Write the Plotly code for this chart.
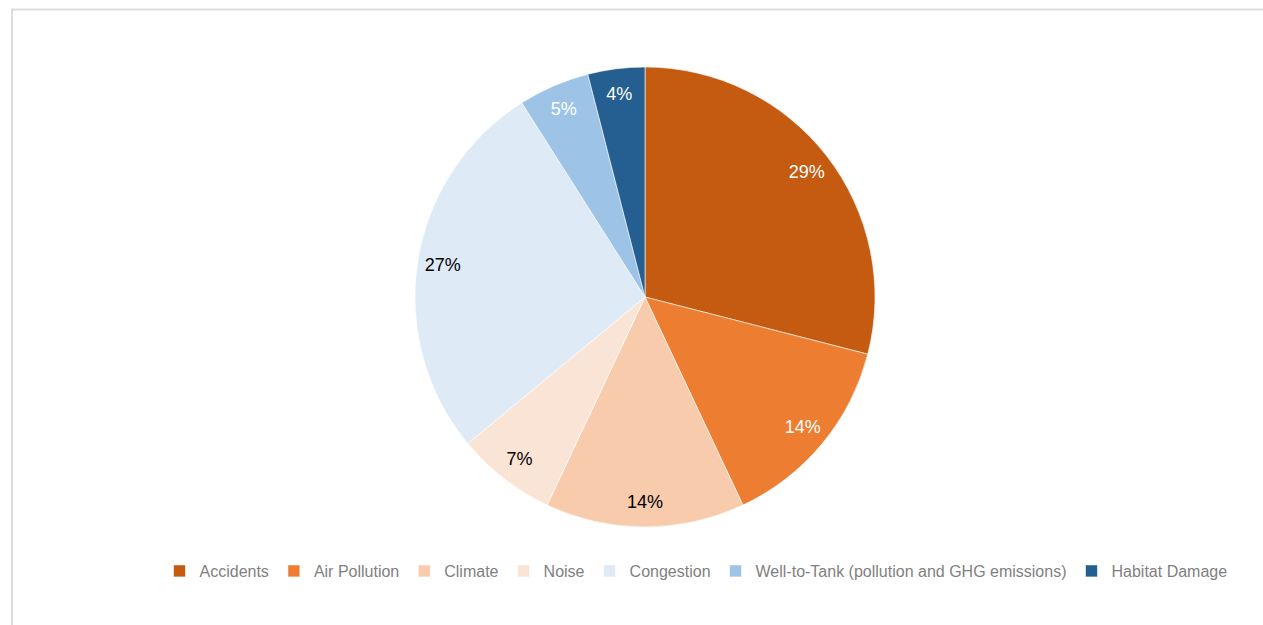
import plotly.graph_objects as go

categories = ["Accidents", "Air Pollution", "Climate", "Noise", "Congestion",
              "Well-to-Tank (pollution and GHG emissions)", "Habitat Damage"]
values = [29, 14, 14, 7, 27, 5, 4]
colors = ["#C55A11", "#ED7D31", "#F7CBAC", "#FAE4D6", "#DEEAF6", "#9DC3E6", "#255E91"]
text_colors = ["white", "white", "black", "black", "black", "white", "white"]

W, H = 1263, 625
cx, cy, r = 645, 297, 230
dom = dict(x=[(cx - r) / W, (cx + r) / W], y=[1 - (cy + r) / H, 1 - (cy - r) / H])
FONT = "Liberation Sans, Arial"

# main pie (slices + legend)
fig = go.Figure(go.Pie(
    labels=categories,
    values=values,
    sort=False,
    direction="clockwise",
    rotation=0,
    marker=dict(colors=colors, line=dict(color="white", width=0.6)),
    textinfo="none",
    hoverinfo="label+percent",
    domain=dom,
))
# transparent ring trace used only to place the percentage labels near the outer edge
fig.add_trace(go.Pie(
    labels=categories,
    values=values,
    sort=False,
    direction="clockwise",
    rotation=0,
    hole=0.78,
    marker=dict(colors=["rgba(0,0,0,0)"] * len(values), line=dict(width=0)),
    texttemplate="%{percent:.0%}",
    textposition="inside",
    insidetextorientation="horizontal",
    insidetextfont=dict(family=FONT, size=18, color=text_colors),
    hoverinfo="skip",
    showlegend=False,
    domain=dom,
))

fig.update_layout(
    width=W, height=H,
    margin=dict(l=0, r=0, t=0, b=0),
    paper_bgcolor="white",
    plot_bgcolor="white",
    font=dict(family=FONT, color="#7F7F7F"),
    showlegend=True,
    legend=dict(
        orientation="h",
        x=696 / W, xanchor="center",
        y=1 - 571 / H, yanchor="middle",
        font=dict(family=FONT, size=16, color="#7F7F7F"),
        itemwidth=30,
        tracegroupgap=0,
        bgcolor="rgba(0,0,0,0)",
    ),
    shapes=[dict(type="rect", xref="paper", yref="paper",
                 x0=12 / W, x1=1.05, y0=-0.05, y1=1 - 9.5 / H,
                 line=dict(color="#DDDDDD", width=2), layer="below")],
)

fig.write_html("out.html")
